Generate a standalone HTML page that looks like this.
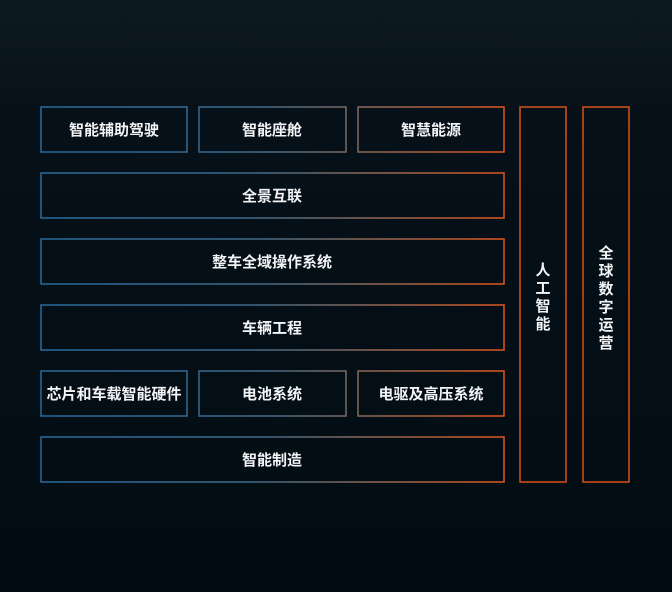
<!DOCTYPE html>
<html><head><meta charset="utf-8"><style>
html,body{margin:0;padding:0;}
body{width:672px;height:592px;overflow:hidden;background:linear-gradient(180deg,#0e1a22 0%,#061018 20%,#020c13 100%);}
svg{display:block}
text{font-family:"Liberation Sans","Noto Sans CJK SC",sans-serif;font-weight:bold;font-size:15px;fill:#f2f4f6;}
</style></head><body>
<svg width="672" height="592" xmlns="http://www.w3.org/2000/svg">
<defs>
<linearGradient id="g" gradientUnits="userSpaceOnUse" x1="41" y1="0" x2="504" y2="0">
<stop offset="0" stop-color="#2a6a9c"/><stop offset="0.45" stop-color="#3d6a8c"/><stop offset="0.7" stop-color="#8a6a5a"/><stop offset="1" stop-color="#e2561c"/>
</linearGradient>
</defs>
<g fill="none" stroke="url(#g)" stroke-width="1.5">
<rect x="41" y="107" width="146" height="45"/>
<rect x="199" y="107" width="147" height="45"/>
<rect x="358" y="107" width="146" height="45"/>
<rect x="41" y="173" width="463" height="45"/>
<rect x="41" y="239" width="463" height="45"/>
<rect x="41" y="305" width="463" height="45"/>
<rect x="41" y="371" width="146" height="45"/>
<rect x="199" y="371" width="147" height="45"/>
<rect x="358" y="371" width="146" height="45"/>
<rect x="41" y="437" width="463" height="45"/>
</g>
<g fill="none" stroke="#d9501a" stroke-width="1.5">
<rect x="520" y="107" width="46" height="375"/>
<rect x="583" y="107" width="46" height="375"/>
</g>
<g text-anchor="middle">
<text x="114" y="135">智能辅助驾驶</text>
<text x="272" y="135">智能座舱</text>
<text x="431" y="135">智慧能源</text>
<text x="272" y="201">全景互联</text>
<text x="272" y="267">整车全域操作系统</text>
<text x="272" y="333">车辆工程</text>
<text x="114" y="399">芯片和车载智能硬件</text>
<text x="272" y="399">电池系统</text>
<text x="431" y="399">电驱及高压系统</text>
<text x="272" y="465">智能制造</text>
<text x="543" y="275">人</text><text x="543" y="293">工</text><text x="543" y="311">智</text><text x="543" y="329">能</text>
<text x="606" y="258">全</text><text x="606" y="276">球</text><text x="606" y="294">数</text><text x="606" y="312">字</text><text x="606" y="330">运</text><text x="606" y="348">营</text>
</g>
</svg>
</body></html>
